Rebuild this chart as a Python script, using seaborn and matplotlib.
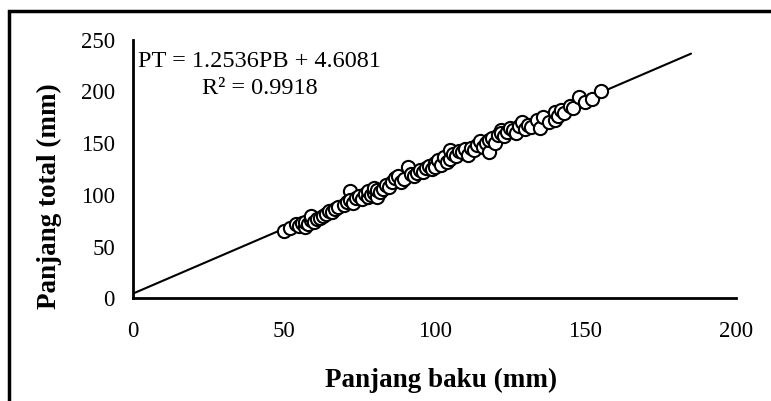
import numpy as np
import pandas as pd
import matplotlib
matplotlib.use("Agg")
import matplotlib.pyplot as plt
import seaborn as sns
from matplotlib.patches import Rectangle

# Data
panjang_baku = [50, 52, 54, 55, 56, 57, 57, 58, 59, 59, 60, 61, 62, 63, 64, 65, 66, 67, 68, 70,
                71, 72, 72, 73, 74, 75, 76, 77, 78, 78, 79, 80, 80, 81, 81, 82, 83, 84, 85, 86,
                87, 88, 89, 90, 91, 92, 93, 94, 95, 96, 97, 98, 99, 100, 100, 101, 102, 103, 104, 105,
                105, 106, 107, 108, 109, 110, 111, 112, 113, 114, 115, 116, 117, 118, 118, 119, 120, 121, 122, 122,
                123, 124, 125, 126, 127, 128, 129, 130, 131, 132, 134, 135, 136, 138, 140, 140, 141, 142, 143, 145,
                146, 148, 150, 152, 155]
panjang_total = [65, 68, 72, 70, 73, 69, 74, 72, 76, 80, 74, 77, 78, 80, 82, 84, 83, 86, 88, 90,
                 93, 104, 95, 92, 97, 99, 96, 101, 98, 104, 100, 102, 107, 98, 105, 103, 106, 110, 108, 112,
                 116, 118, 112, 115, 127, 120, 118, 121, 124, 122, 126, 128, 125, 131, 127, 134, 129, 137, 132, 135,
                 143, 140, 138, 142, 141, 144, 139, 145, 143, 148, 152, 146, 150, 141, 153, 155, 150, 158, 163, 160,
                 157, 161, 165, 163, 160, 167, 170, 164, 168, 166, 172, 165, 175, 170, 172, 180, 176, 182, 179, 186,
                 184, 195, 190, 193, 200]
slope = 1.2536
intercept = 4.6081
line_x = [0, 185]
x_ticks = [0, 50, 100, 150, 200]
y_ticks = [0, 50, 100, 150, 200, 250]
eq_text = "PT = 1.2536PB + 4.6081"
r2_text = "R\u00b2 = 0.9918"
x_label = "Panjang baku (mm)"
y_label = "Panjang total (mm)"

sns.set_style("white")
plt.rcParams['font.family'] = ['Liberation Serif', 'DejaVu Serif']
plt.rcParams['text.color'] = 'black'
plt.rcParams['axes.labelcolor'] = 'black'
plt.rcParams['xtick.color'] = 'black'
plt.rcParams['ytick.color'] = 'black'

df = pd.DataFrame({"PB": panjang_baku, "PT": panjang_total})
line_df = pd.DataFrame({"PB": line_x, "PT": [slope * v + intercept for v in line_x]})

fig = plt.figure(figsize=(7.71, 4.01), dpi=100)
ax = fig.add_axes([0.1725, 0.256, 0.7825, 0.645])

sns.lineplot(data=line_df, x="PB", y="PT", ax=ax, color="black", linewidth=1.5, zorder=1)
sns.scatterplot(data=df, x="PB", y="PT", ax=ax, s=90, facecolor="white",
                edgecolor="black", linewidth=1.5, zorder=2)

ax.set_xlim(0, 200)
ax.set_ylim(0, 250)
ax.set_xticks(x_ticks)
ax.set_yticks(y_ticks)
ax.tick_params(axis="both", length=0, labelsize=16.5, labelcolor="black")
ax.tick_params(axis="x", pad=16)
ax.tick_params(axis="y", pad=13)
for s in ["top", "right"]:
    ax.spines[s].set_visible(False)
for s in ["left", "bottom"]:
    ax.spines[s].set_color("black")
    ax.spines[s].set_linewidth(2)

ax.set_xlabel(x_label, fontsize=19.5, fontweight="bold", va="center", color="black")
ax.xaxis.set_label_coords(0.51, -0.316)
ax.set_ylabel(y_label, fontsize=19.5, fontweight="bold", va="center", color="black")
ax.yaxis.set_label_coords(-0.138, 0.395)

ax.text(1.5, 229, eq_text, fontsize=17.5, ha="left", va="center", color="black")
ax.text(23, 203, r2_text, fontsize=17.5, ha="left", va="center", color="black")

fig.patches.append(Rectangle((9 / 771, -0.05), 1.1, (401 - 11) / 401 + 0.05,
                             transform=fig.transFigure, fill=False,
                             edgecolor="black", linewidth=2.5))

fig.savefig("out.png", dpi=100)
